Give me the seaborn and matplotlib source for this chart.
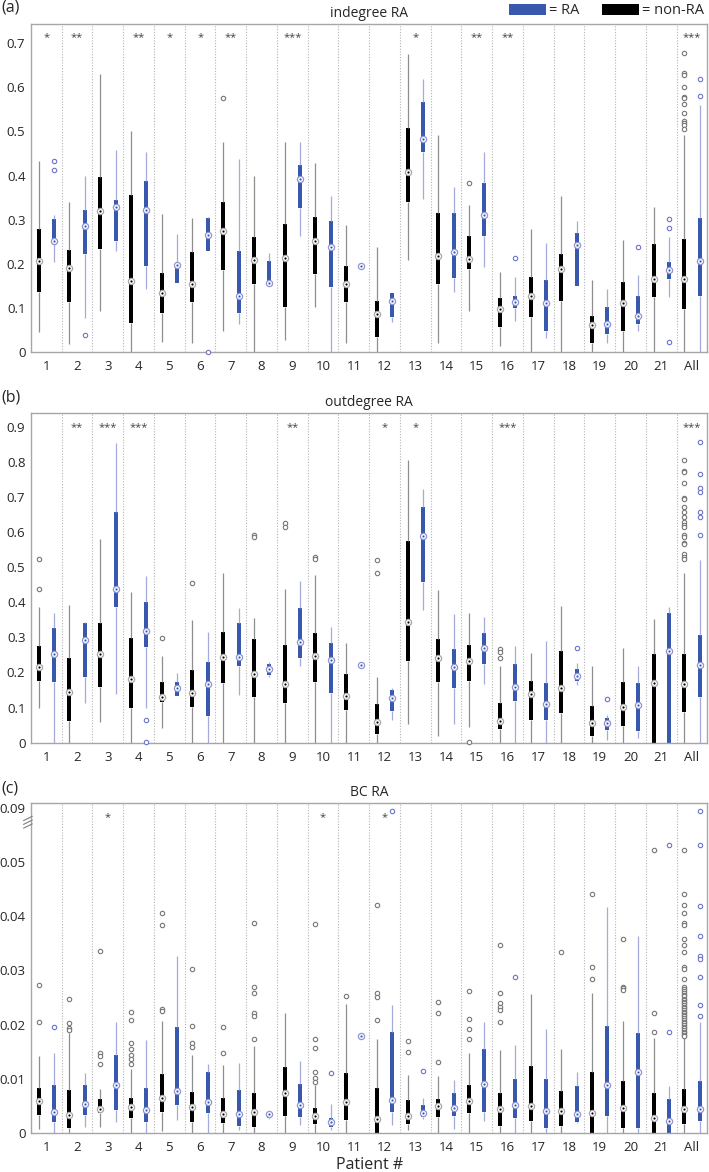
import numpy as np
import pandas as pd
import seaborn as sns
import matplotlib.pyplot as plt
from matplotlib.patches import Rectangle

sns.set_style("white")
plt.rcParams['font.family'] = ['Open Sans', 'DejaVu Sans']

PATIENTS = ['1', '2', '3', '4', '5', '6', '7', '8', '9', '10', '11',
            '12', '13', '14', '15', '16', '17', '18', '19', '20', '21', 'All']
SERIES = ['non-RA', 'RA']

# five-number summaries per patient: (whisker low, q1, median, q3, whisker high)
IN_NONRA = [(0.045, 0.137, 0.207, 0.279, 0.434), (0.019, 0.114, 0.190, 0.232, 0.341),
            (0.092, 0.234, 0.320, 0.397, 0.631), (0.0, 0.065, 0.162, 0.357, 0.502),
            (0.023, 0.088, 0.134, 0.179, 0.313), (0.020, 0.113, 0.153, 0.227, 0.304),
            (0.048, 0.185, 0.275, 0.340, 0.477), (0.0, 0.153, 0.209, 0.260, 0.398),
            (0.026, 0.103, 0.212, 0.291, 0.476), (0.102, 0.177, 0.252, 0.305, 0.428),
            (0.020, 0.114, 0.155, 0.194, 0.289), (0.0, 0.033, 0.085, 0.116, 0.238),
            (0.209, 0.341, 0.407, 0.508, 0.676), (0.020, 0.153, 0.217, 0.315, 0.492),
            (0.094, 0.188, 0.211, 0.264, 0.334), (0.013, 0.057, 0.098, 0.122, 0.181),
            (0.0, 0.079, 0.126, 0.169, 0.279), (0.0, 0.115, 0.187, 0.222, 0.353),
            (0.0, 0.020, 0.060, 0.082, 0.164), (0.0, 0.048, 0.111, 0.159, 0.255),
            (0.0, 0.124, 0.165, 0.245, 0.328), (0.0, 0.098, 0.165, 0.256, 0.492)]
IN_RA = [(0.205, 0.249, 0.251, 0.301, 0.311), (0.077, 0.223, 0.285, 0.322, 0.398),
         (0.228, 0.252, 0.328, 0.345, 0.457), (0.143, 0.194, 0.322, 0.388, 0.453),
         (0.156, 0.156, 0.198, 0.198, 0.267), (0.228, 0.228, 0.266, 0.303, 0.305),
         (0.064, 0.088, 0.128, 0.228, 0.437), (0.156, 0.156, 0.156, 0.207, 0.224),
         (0.264, 0.326, 0.393, 0.423, 0.476), (0.0, 0.147, 0.237, 0.296, 0.354),
         (0.194, 0.194, 0.194, 0.194, 0.194), (0.067, 0.079, 0.116, 0.134, 0.134),
         (0.347, 0.454, 0.483, 0.566, 0.619), (0.135, 0.168, 0.227, 0.315, 0.374),
         (0.192, 0.264, 0.311, 0.383, 0.454), (0.071, 0.100, 0.113, 0.128, 0.170),
         (0.032, 0.047, 0.110, 0.164, 0.247), (0.149, 0.149, 0.243, 0.270, 0.298),
         (0.020, 0.041, 0.063, 0.102, 0.143), (0.048, 0.064, 0.081, 0.128, 0.175),
         (0.124, 0.165, 0.185, 0.204, 0.261), (0.0, 0.128, 0.207, 0.304, 0.560)]
IN_NONRA_OUT = {'7': [0.575], '15': [0.384],
                'All': [0.677, 0.632, 0.628, 0.600, 0.579, 0.576, 0.563, 0.542,
                        0.524, 0.520, 0.515, 0.505]}
IN_RA_OUT = {'1': [0.434, 0.412], '2': [0.038], '6': [0.0], '16': [0.213],
             '20': [0.239], '21': [0.302, 0.282, 0.022], 'All': [0.619, 0.581]}
IN_STARS = {'1': '*', '2': '**', '4': '**', '5': '*', '6': '*', '7': '**', '9': '***',
            '13': '*', '15': '**', '16': '**', 'All': '***'}

OUT_NONRA = [(0.098, 0.176, 0.215, 0.274, 0.387), (0.0, 0.063, 0.143, 0.240, 0.392),
             (0.060, 0.158, 0.253, 0.342, 0.580), (0.0, 0.098, 0.181, 0.297, 0.428),
             (0.041, 0.117, 0.131, 0.172, 0.247), (0.0, 0.101, 0.142, 0.207, 0.348),
             (0.0, 0.169, 0.243, 0.316, 0.482), (0.0, 0.129, 0.195, 0.294, 0.356),
             (0.0, 0.112, 0.166, 0.278, 0.437), (0.0, 0.174, 0.247, 0.311, 0.478),
             (0.0, 0.093, 0.133, 0.196, 0.285), (0.0, 0.025, 0.060, 0.110, 0.188),
             (0.052, 0.233, 0.345, 0.575, 0.805), (0.019, 0.172, 0.240, 0.295, 0.435),
             (0.044, 0.176, 0.234, 0.278, 0.370), (0.0, 0.038, 0.062, 0.114, 0.217),
             (0.0, 0.066, 0.139, 0.176, 0.256), (0.0, 0.084, 0.157, 0.261, 0.390),
             (0.0, 0.019, 0.055, 0.104, 0.218), (0.0, 0.048, 0.103, 0.174, 0.271),
             (0.0, 0.0, 0.169, 0.252, 0.352), (0.0, 0.088, 0.166, 0.252, 0.482)]
OUT_RA = [(0.0, 0.174, 0.253, 0.326, 0.368), (0.112, 0.188, 0.292, 0.340, 0.345),
          (0.138, 0.385, 0.437, 0.658, 0.853), (0.098, 0.272, 0.319, 0.402, 0.475),
          (0.134, 0.134, 0.155, 0.174, 0.199), (0.0, 0.076, 0.167, 0.231, 0.314),
          (0.136, 0.219, 0.243, 0.340, 0.383), (0.188, 0.193, 0.210, 0.224, 0.229),
          (0.219, 0.242, 0.286, 0.383, 0.461), (0.0, 0.141, 0.236, 0.283, 0.329),
          (0.221, 0.221, 0.221, 0.221, 0.221), (0.065, 0.090, 0.126, 0.150, 0.155),
          (0.378, 0.457, 0.589, 0.670, 0.722), (0.053, 0.155, 0.215, 0.266, 0.367),
          (0.166, 0.224, 0.269, 0.311, 0.359), (0.0, 0.119, 0.158, 0.223, 0.276),
          (0.0, 0.066, 0.110, 0.171, 0.290), (0.164, 0.177, 0.190, 0.209, 0.228),
          (0.008, 0.036, 0.055, 0.069, 0.079), (0.014, 0.034, 0.107, 0.169, 0.217),
          (0.0, 0.0, 0.262, 0.368, 0.385), (0.0, 0.131, 0.221, 0.307, 0.520)]
OUT_NONRA_OUT = {'1': [0.524, 0.437], '5': [0.297], '6': [0.456], '8': [0.592, 0.585],
                 '9': [0.625, 0.615], '10': [0.530, 0.523], '12': [0.520, 0.482],
                 '15': [0.003], '16': [0.266, 0.259, 0.242],
                 'All': [0.805, 0.774, 0.772, 0.739, 0.698, 0.694, 0.672, 0.658, 0.644,
                         0.627, 0.620, 0.615, 0.592, 0.587, 0.568, 0.565, 0.537, 0.530,
                         0.522]}
OUT_RA_OUT = {'4': [0.065, 0.003], '18': [0.271], '19': [0.123],
              'All': [0.855, 0.765, 0.725, 0.715, 0.656, 0.642, 0.590]}
OUT_STARS = {'2': '**', '3': '***', '4': '***', '9': '**', '12': '*', '13': '*',
             '16': '***', 'All': '***'}

# BC values; anything above the axis break is shown at its compressed position
BC_NONRA = [(0.0006, 0.0033, 0.0059, 0.0083, 0.0142), (0.0, 0.0009, 0.0033, 0.0079, 0.0184),
            (0.0011, 0.0036, 0.0044, 0.0062, 0.0080), (0.0, 0.0028, 0.0047, 0.0064, 0.0117),
            (0.0004, 0.0039, 0.0065, 0.0108, 0.0207), (0.0, 0.0020, 0.0048, 0.0075, 0.0144),
            (0.0, 0.0018, 0.0035, 0.0064, 0.0125), (0.0, 0.0011, 0.0039, 0.0073, 0.0160),
            (0.0, 0.0031, 0.0074, 0.0122, 0.0222), (0.0, 0.0016, 0.0031, 0.0045, 0.0089),
            (0.0, 0.0023, 0.0057, 0.0111, 0.0238), (0.0, 0.0, 0.0025, 0.0082, 0.0173),
            (0.0005, 0.0016, 0.0031, 0.0060, 0.0107), (0.0, 0.0030, 0.0049, 0.0062, 0.0105),
            (0.0, 0.0037, 0.0059, 0.0089, 0.0148), (0.0, 0.0013, 0.0043, 0.0074, 0.0153),
            (0.0, 0.0022, 0.0049, 0.0123, 0.0256), (0.0, 0.0013, 0.0041, 0.0078, 0.0155),
            (0.0, 0.0, 0.0036, 0.0112, 0.0258), (0.0, 0.0008, 0.0046, 0.0096, 0.0207),
            (0.0, 0.0, 0.0028, 0.0074, 0.0176), (0.0, 0.0017, 0.0044, 0.0080, 0.0178)]
BC_RA = [(0.0, 0.0020, 0.0038, 0.0088, 0.0147), (0.0010, 0.0033, 0.0054, 0.0089, 0.0110),
         (0.0020, 0.0042, 0.0088, 0.0144, 0.0205), (0.0, 0.0020, 0.0042, 0.0082, 0.0171),
         (0.0023, 0.0051, 0.0077, 0.0195, 0.0326), (0.0, 0.0036, 0.0057, 0.0113, 0.0127),
         (0.0005, 0.0012, 0.0034, 0.0079, 0.0129), (0.0026, 0.0027, 0.0034, 0.0034, 0.0035),
         (0.0015, 0.0030, 0.0051, 0.0090, 0.0133), (0.0005, 0.0010, 0.0019, 0.0028, 0.0053),
         (0.0178, 0.0178, 0.0178, 0.0178, 0.0178), (0.0015, 0.0039, 0.0060, 0.0186, 0.0236),
         (0.0025, 0.0030, 0.0037, 0.0051, 0.0064), (0.0007, 0.0031, 0.0046, 0.0073, 0.0097),
         (0.0022, 0.0039, 0.0090, 0.0154, 0.0204), (0.0, 0.0027, 0.0052, 0.0099, 0.0162),
         (0.0, 0.0009, 0.0040, 0.0099, 0.0191), (0.0018, 0.0020, 0.0034, 0.0087, 0.0113),
         (0.0, 0.0031, 0.0088, 0.0198, 0.0418), (0.0, 0.0008, 0.0113, 0.0184, 0.0363),
         (0.0, 0.0, 0.0022, 0.0062, 0.0086), (0.0, 0.0022, 0.0044, 0.0096, 0.0205)]
BC_NONRA_OUT = {'1': [0.0273, 0.0205], '2': [0.0247, 0.0202, 0.0193, 0.0190],
                '3': [0.0336, 0.0147, 0.0142, 0.0127],
                '4': [0.0224, 0.0208, 0.0165, 0.0155, 0.0144, 0.0136, 0.0127],
                '5': [0.0406, 0.0384, 0.0228, 0.0225], '6': [0.0303, 0.0197, 0.0166, 0.0159],
                '7': [0.0196, 0.0147], '8': [0.0388, 0.0269, 0.0259, 0.0222, 0.0216, 0.0174],
                '10': [0.0386, 0.0174, 0.0157, 0.0113, 0.0102, 0.0094], '11': [0.0253],
                '12': [0.0421, 0.0258, 0.0250, 0.0208], '13': [0.0170, 0.0149],
                '14': [0.0241, 0.0221, 0.0131], '15': [0.0262, 0.0211, 0.0191, 0.0174],
                '16': [0.0347, 0.0258, 0.0239, 0.0233, 0.0226, 0.0204], '18': [0.0334],
                '19': [0.0441, 0.0307, 0.0284], '20': [0.0358, 0.0270, 0.0267, 0.0264],
                '21': [0.0523, 0.0221, 0.0187],
                'All': [0.0523, 0.0441, 0.0421, 0.0406, 0.0388, 0.0384, 0.0358, 0.0347,
                        0.0335, 0.0307, 0.0303, 0.0284, 0.0270, 0.0266, 0.0262, 0.0258,
                        0.0255, 0.0252, 0.0248, 0.0245, 0.0241, 0.0239, 0.0236, 0.0233,
                        0.0230, 0.0227, 0.0224, 0.0221, 0.0218, 0.0215, 0.0212, 0.0208,
                        0.0205, 0.0202, 0.0199, 0.0196, 0.0193, 0.0190, 0.0187, 0.0184,
                        0.0181, 0.0179]}
BC_RA_OUT = {'1': [0.0196], '10': [0.0110], '12': [0.0595], '13': [0.0114],
             '16': [0.0287], '21': [0.0532, 0.0187],
             'All': [0.0595, 0.0532, 0.0419, 0.0363, 0.0326, 0.0321, 0.0287, 0.0237, 0.0215]}
BC_STARS = {'3': '*', '10': '*', '12': '*'}

BOX_COLORS = {'non-RA': '#000000', 'RA': '#3858ad'}
WHISKER_COLORS = {'non-RA': '#8e8e8e', 'RA': '#a4aadc'}
OUTLIER_COLORS = {'non-RA': '#777777', 'RA': '#6d75c6'}
MEDIAN_EDGE = {'non-RA': '#a8a8a8', 'RA': '#8d95d4'}
OFFSET = {'non-RA': -0.25, 'RA': 0.25}


def box_table(s, boxes):
    rows = []
    for p, five in zip(PATIENTS, boxes):
        for v in five:
            rows.append((PATIENTS.index(p) + OFFSET[s], v))
    return pd.DataFrame(rows, columns=['x', 'value'])


def point_table(s, pairs):
    rows = [(PATIENTS.index(p) + OFFSET[s], v) for p, v in pairs]
    return pd.DataFrame(rows, columns=['x', 'value'])


def draw_panel(ax, non, ra, non_out, ra_out, stars, star_y, ylim, yticks, ylabels, title):
    for k in range(len(PATIENTS) - 1):
        ax.axvline(k + 0.5, color='#b4b4b4', lw=0.8, ls=(0, (1, 1.5)), zorder=0)

    for s, boxes in (('non-RA', non), ('RA', ra)):
        sns.boxplot(data=box_table(s, boxes), x='x', y='value', native_scale=True,
                    color=BOX_COLORS[s], whis=(0, 100), width=0.13, saturation=1,
                    linecolor=WHISKER_COLORS[s], linewidth=0.9, showcaps=False,
                    boxprops=dict(edgecolor='none'), medianprops=dict(visible=False),
                    ax=ax)

    for s, outs in (('non-RA', non_out), ('RA', ra_out)):
        pts = point_table(s, [(p, v) for p, vals in outs.items() for v in vals])
        sns.scatterplot(data=pts, x='x', y='value', color='white',
                        edgecolor=OUTLIER_COLORS[s], s=10, linewidth=0.8,
                        zorder=4, clip_on=False, legend=False, ax=ax)

    for s, boxes in (('non-RA', non), ('RA', ra)):
        meds = point_table(s, [(p, five[2]) for p, five in zip(PATIENTS, boxes)])
        sns.scatterplot(data=meds, x='x', y='value', color='white',
                        edgecolor=MEDIAN_EDGE[s], s=20, linewidth=0.9,
                        zorder=5, legend=False, ax=ax)
        sns.scatterplot(data=meds, x='x', y='value', color=BOX_COLORS[s],
                        s=2.5, linewidth=0, zorder=6, legend=False, ax=ax)

    for p, txt in stars.items():
        ax.text(PATIENTS.index(p), star_y, txt, ha='center', va='center',
                fontsize=8, color='#444444')

    ax.set_xlim(-0.5, len(PATIENTS) - 0.5)
    ax.set_ylim(*ylim)
    ax.set_xticks(range(len(PATIENTS)))
    ax.set_xticklabels(PATIENTS, fontsize=9.5)
    ax.set_yticks(yticks)
    ax.set_yticklabels(ylabels, fontsize=9.5)
    ax.tick_params(length=0, pad=4)
    ax.tick_params(axis='x', pad=6)
    ax.set_xlabel('')
    ax.set_ylabel('')
    ax.set_title(title, fontsize=10, pad=5)
    for sp in ax.spines.values():
        sp.set_color('#a6a6a6')
        sp.set_linewidth(1.0)


W, H = 709, 1172
fig = plt.figure(figsize=(W / 100, H / 100), dpi=100)
ax_a = fig.add_axes([0.0437, 0.6997, 0.954, 0.2799])
ax_b = fig.add_axes([0.0437, 0.3663, 0.954, 0.2811])
ax_c = fig.add_axes([0.0437, 0.0335, 0.954, 0.2811])

draw_panel(ax_a, IN_NONRA, IN_RA, IN_NONRA_OUT, IN_RA_OUT, IN_STARS, 0.712,
           (0, 0.744), np.arange(0, 0.75, 0.1),
           ['0', '0.1', '0.2', '0.3', '0.4', '0.5', '0.6', '0.7'], 'indegree RA')
draw_panel(ax_b, OUT_NONRA, OUT_RA, OUT_NONRA_OUT, OUT_RA_OUT, OUT_STARS, 0.897,
           (0, 0.938), np.arange(0, 0.95, 0.1),
           ['0', '0.1', '0.2', '0.3', '0.4', '0.5', '0.6', '0.7', '0.8', '0.9'], 'outdegree RA')
draw_panel(ax_c, BC_NONRA, BC_RA, BC_NONRA_OUT, BC_RA_OUT, BC_STARS, 0.0582,
           (0, 0.0609), [0, 0.01, 0.02, 0.03, 0.04, 0.05, 0.06],
           ['0', '0.01', '0.02', '0.03', '0.04', '0.05', '0.09'], 'BC RA')
ax_c.set_xlabel('Patient #', fontsize=11.5, labelpad=2)

# axis break marks on panel (c)
trans = ax_c.get_yaxis_transform()
for yb in (0.0567, 0.0574, 0.0581):
    ax_c.plot([-0.011, 0.002], [yb - 0.0004, yb + 0.0004], color='#808080', lw=0.8,
              transform=trans, clip_on=False, zorder=7)

for lab, y in (('(a)', 0.9935), ('(b)', 0.6605), ('(c)', 0.3275)):
    fig.text(0.002, y, lab, fontsize=11.5, ha='left', va='center')

# key in the top-right corner
for x0, s, label in ((509, 'RA', '= RA'), (602, 'non-RA', '= non-RA')):
    fig.add_artist(Rectangle((x0 / W, 1 - 14.5 / H), 37 / W, 10 / H,
                             transform=fig.transFigure, facecolor=BOX_COLORS[s],
                             edgecolor='none'))
    fig.text((x0 + 40) / W, 1 - 10 / H, label, fontsize=10.5, ha='left', va='center')

fig.savefig('out.png', dpi=100)
